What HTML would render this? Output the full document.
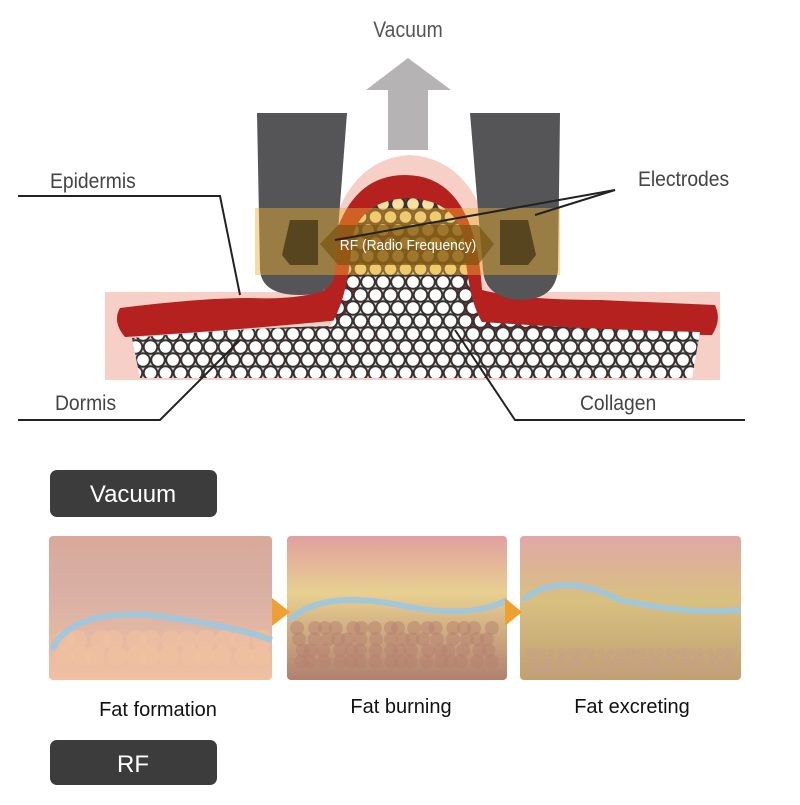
<!DOCTYPE html>
<html><head><meta charset="utf-8"><style>
body{margin:0;background:#fff;width:800px;height:800px;overflow:hidden;font-family:"Liberation Sans",sans-serif}
</style></head><body>
<svg id="s" width="800" height="800" viewBox="0 0 800 800" xmlns="http://www.w3.org/2000/svg">
<defs>
<clipPath id="fatclip"><path d="M132 338 Q240 328 330 326 Q348 300 352 240 Q360 200 408 198 Q456 200 464 240 Q468 300 482 322 Q600 330 700 332 L692 378 L140 378 Z"/></clipPath>
<linearGradient id="p1" x1="0" y1="0" x2="0" y2="1"><stop offset="0" stop-color="#d9a99a"/><stop offset="0.4" stop-color="#d8b0a5"/><stop offset="1" stop-color="#f0c0a0"/></linearGradient>
<linearGradient id="p2" x1="0" y1="0" x2="0" y2="1"><stop offset="0" stop-color="#e0a0a0"/><stop offset="0.4" stop-color="#e8d090"/><stop offset="1" stop-color="#b08070"/></linearGradient>
<linearGradient id="p3" x1="0" y1="0" x2="0" y2="1"><stop offset="0" stop-color="#e0a8a8"/><stop offset="0.45" stop-color="#d8c080"/><stop offset="1" stop-color="#c0a070"/></linearGradient>
</defs>
<text x="408" y="37" font-size="22" fill="#555" text-anchor="middle" transform="translate(408 0) scale(0.88 1) translate(-408 0)">Vacuum</text>
<polygon points="408,58 451,90 428,90 428,150 388,150 388,90 366,90" fill="#b5b3b4"/>
<path d="M105 292 L322 292 Q330 160 410 155 Q490 160 498 292 L720 292 L720 380 L105 380 Z" fill="#f6cfc6"/>
<path d="M120 308 Q200 298 250 298 Q300 300 325 290 Q335 175 405 175 Q475 175 482 290 Q520 300 600 300 L715 305 Q722 320 712 335 L470 333 Q455 300 455 270 L360 270 Q352 310 340 320 Q240 330 125 337 Q112 322 120 308Z" fill="#b5211f"/>
<g id="balls" clip-path="url(#fatclip)"></g>
<path d="M257 113 L347 113 L335 270 Q335 295 300 295 Q262 295 260 270 Z" fill="#555456"/>
<path d="M470 113 L560 113 L558 270 Q555 300 520 300 Q485 298 483 270 Z" fill="#555456"/>
<rect x="255" y="208" width="305" height="67" fill="#f0b030" opacity="0.45"/>
<path d="M290 220 L318 220 L318 265 L290 265 L282 255 Z" fill="#3b2e10" opacity="0.7"/>
<path d="M500 220 L528 220 L536 255 L528 265 L500 265 Z" fill="#3b2e10" opacity="0.7"/>
<path d="M320 244 L338 225 L478 225 L494 244 L478 265 L338 265 Z" fill="#7a5410" opacity="0.7"/>
<text x="408" y="250" font-size="15" fill="#fff" text-anchor="middle" transform="translate(408 0) scale(0.92 1) translate(-408 0)">RF (Radio Frequency)</text>
<g font-size="21" fill="#444">
<text x="50" y="188" transform="translate(50 0) scale(0.92 1) translate(-50 0)">Epidermis</text>
<text x="638" y="186" transform="translate(638 0) scale(0.92 1) translate(-638 0)">Electrodes</text>
<text x="55" y="410" transform="translate(55 0) scale(0.92 1) translate(-55 0)">Dormis</text>
<text x="580" y="410" transform="translate(580 0) scale(0.92 1) translate(-580 0)">Collagen</text>
</g>
<g stroke="#222" stroke-width="2" fill="none">
<polyline points="18,196 220,196 240,295"/>
<polyline points="18,420 160,420 240,340"/>
<polyline points="745,420 515,420 455,330"/>
<polyline points="615,190 335,240"/>
<polyline points="615,190 535,215"/>
</g>
<rect x="50" y="470" width="167" height="47" rx="7" fill="#3d3c3d"/>
<text x="133" y="502" font-size="24" fill="#fff" text-anchor="middle">Vacuum</text>
<rect x="50" y="740" width="167" height="45" rx="7" fill="#3d3c3d"/>
<text x="133" y="772" font-size="24" fill="#fff" text-anchor="middle">RF</text>
<rect x="49" y="536" width="223" height="144" rx="4" fill="url(#p1)"/>
<rect x="287" y="536" width="220" height="144" rx="4" fill="url(#p2)"/>
<rect x="520" y="536" width="221" height="144" rx="4" fill="url(#p3)"/>
<g id="cells"></g>
<g stroke="#9cc8e0" stroke-width="6" fill="none" opacity="0.9">
<path d="M52 650 Q70 610 150 615 Q230 625 272 640"/>
<path d="M290 620 Q320 590 400 605 Q470 620 507 600"/>
<path d="M523 600 Q560 570 620 600 Q690 615 741 610"/>
</g>
<polygon points="272,598 290,612 272,626" fill="#f0a030"/>
<polygon points="505,598 522,612 505,626" fill="#f0a030"/>
<g font-size="20" fill="#111" text-anchor="middle">
<text x="158" y="716">Fat formation</text>
<text x="401" y="713">Fat burning</text>
<text x="632" y="713">Fat excreting</text>
</g>
</svg>
<script>
var ns="http://www.w3.org/2000/svg",g=document.getElementById('balls');
for(var r=0;r<16;r++){for(var c=0;c<42;c++){var x=128+c*15+(r%2)*7.5,y=178+r*13;
var e=document.createElementNS(ns,'circle');e.setAttribute('cx',x);e.setAttribute('cy',y);e.setAttribute('r',6.8);
e.setAttribute('fill',y<275?'#f5e0a0':'#fff');e.setAttribute('stroke','#333');e.setAttribute('stroke-width','2');g.appendChild(e);}}
var cg=document.getElementById('cells');
function cells(x0,x1,y0,y1,col,rr,op){for(var y=y0;y<y1;y+=rr*1.6){for(var x=x0;x<x1;x+=rr*1.8){var e=document.createElementNS(ns,'circle');
e.setAttribute('cx',x+(Math.sin(x*y)*3));e.setAttribute('cy',y);e.setAttribute('r',rr);e.setAttribute('fill',col);e.setAttribute('opacity',op);cg.appendChild(e);}}}
cells(62,262,640,672,'#f3c3a0',10,0.55);cells(300,498,628,672,'#b58070',7,0.5);cells(530,735,652,676,'#c8a088',4,0.5);
</script>
</body></html>
